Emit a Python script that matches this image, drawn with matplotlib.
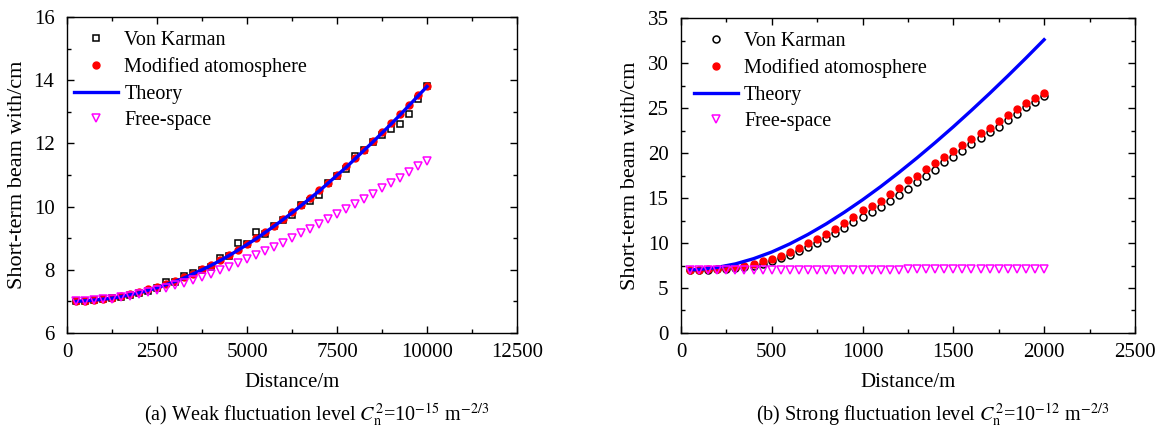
import matplotlib
matplotlib.use('Agg')
import matplotlib.pyplot as plt
from matplotlib.ticker import MultipleLocator

plt.rcParams['font.family'] = ['Liberation Serif', 'DejaVu Serif']
plt.rcParams['mathtext.fontset'] = 'stix'

# (a) weak fluctuation, distance in m
dist_a = [250, 500, 750, 1000, 1250, 1500, 1750, 2000, 2250, 2500,
          2750, 3000, 3250, 3500, 3750, 4000, 4250, 4500, 4750, 5000,
          5250, 5500, 5750, 6000, 6250, 6500, 6750, 7000, 7250, 7500,
          7750, 8000, 8250, 8500, 8750, 9000, 9250, 9500, 9750, 10000]
karman_a = [7.00, 7.02, 7.04, 7.06, 7.10, 7.15, 7.20, 7.27, 7.34, 7.42,
            7.60, 7.62, 7.80, 7.91, 8.00, 8.10, 8.38, 8.45, 8.84, 8.82,
            9.20, 9.13, 9.40, 9.56, 9.72, 10.05, 10.19, 10.38, 10.75, 10.97,
            11.20, 11.60, 11.80, 12.05, 12.27, 12.44, 12.62, 12.94, 13.42, 13.82]
modified_a = [7.00, 7.02, 7.04, 7.08, 7.12, 7.17, 7.23, 7.30, 7.38, 7.47,
              7.55, 7.65, 7.76, 7.88, 8.02, 8.16, 8.32, 8.47, 8.64, 8.82,
              9.00, 9.19, 9.40, 9.60, 9.82, 10.05, 10.28, 10.52, 10.76, 11.00,
              11.27, 11.53, 11.80, 12.07, 12.35, 12.63, 12.92, 13.22, 13.52, 13.82]
theory_a = [7.00, 7.02, 7.04, 7.07, 7.10, 7.15, 7.21, 7.27, 7.35, 7.43,
            7.53, 7.63, 7.74, 7.87, 8.00, 8.14, 8.29, 8.45, 8.62, 8.80,
            8.98, 9.18, 9.38, 9.59, 9.80, 10.03, 10.26, 10.49, 10.74, 10.99,
            11.24, 11.51, 11.78, 12.05, 12.33, 12.61, 12.90, 13.20, 13.50, 13.80]
free_a = [7.00, 7.02, 7.03, 7.06, 7.09, 7.13, 7.18, 7.23, 7.29, 7.36,
          7.43, 7.51, 7.59, 7.69, 7.78, 7.88, 7.99, 8.10, 8.22, 8.34,
          8.46, 8.59, 8.73, 8.86, 9.00, 9.15, 9.30, 9.45, 9.60, 9.76,
          9.91, 10.08, 10.24, 10.41, 10.58, 10.75, 10.92, 11.09, 11.27, 11.45]

# (b) strong fluctuation
dist_b = [50, 100, 150, 200, 250, 300, 350, 400, 450, 500,
          550, 600, 650, 700, 750, 800, 850, 900, 950, 1000,
          1050, 1100, 1150, 1200, 1250, 1300, 1350, 1400, 1450, 1500,
          1550, 1600, 1650, 1700, 1750, 1800, 1850, 1900, 1950, 2000]
karman_b = [6.98, 7.00, 7.03, 7.08, 7.14, 7.22, 7.33, 7.48, 7.70, 7.95,
            8.30, 8.70, 9.10, 9.55, 10.00, 10.60, 11.10, 11.70, 12.30, 12.90,
            13.40, 14.00, 14.70, 15.37, 16.00, 16.73, 17.40, 18.15, 18.96, 19.51,
            20.18, 21.03, 21.67, 22.33, 22.85, 23.70, 24.30, 25.10, 25.70, 26.30]
modified_b = [7.00, 7.02, 7.06, 7.12, 7.22, 7.35, 7.50, 7.67, 7.96, 8.22,
              8.59, 9.00, 9.45, 9.95, 10.44, 11.00, 11.55, 12.20, 12.89, 13.63,
              14.14, 14.70, 15.48, 16.10, 16.96, 17.50, 18.25, 18.90, 19.55, 20.18,
              20.85, 21.55, 22.20, 22.78, 23.59, 24.26, 24.90, 25.60, 26.10, 26.70]
free_b = [6.98, 6.98, 6.98, 6.99, 6.99, 6.99, 6.99, 7.00, 7.00, 7.00,
          7.00, 7.01, 7.01, 7.01, 7.02, 7.02, 7.02, 7.03, 7.03, 7.04,
          7.04, 7.05, 7.05, 7.05, 7.06, 7.06, 7.07, 7.07, 7.08, 7.09,
          7.09, 7.10, 7.10, 7.11, 7.12, 7.12, 7.13, 7.14, 7.14, 7.15]
theory_dist_b = [50, 100, 200, 300, 400, 500, 600, 700, 800, 900, 1000,
                 1100, 1200, 1300, 1400, 1500, 1600, 1700, 1800, 1900, 2000]
theory_b = [7.02, 7.07, 7.29, 7.68, 8.26, 9.00, 9.91, 10.96, 12.13, 13.42, 14.80,
            16.27, 17.83, 19.46, 21.16, 22.92, 24.75, 26.63, 28.57, 30.56, 32.60]

labels = ['Von Karman', 'Modified atomosphere', 'Theory', 'Free-space']


def draw(ax, x, karman, modified, tx, theory, free, karman_marker, leg_x):
    ax.plot(x, karman, karman_marker, ls='none', mfc='none', mec='black',
            ms=5, mew=1.1, label=labels[0])
    ax.plot(x, modified, 'o', ls='none', color='#ff0000', ms=5, label=labels[1])
    ax.plot(tx, theory, '-', color='#0000ff', lw=2.4, label=labels[2])
    ax.plot(x, free, 'v', ls='none', mfc='none', mec='#ff00ff',
            ms=5.5, mew=1.1, label=labels[3])
    ax.tick_params(which='both', direction='in', top=True, right=True,
                   labelsize=15)
    ax.tick_params(axis='x', pad=7)
    ax.tick_params(axis='y', pad=9)
    ax.tick_params(which='major', length=5, width=1)
    ax.tick_params(which='minor', length=3, width=1)
    for s in ax.spines.values():
        s.set_linewidth(1.0)
    ax.set_xlabel('Distance/m', fontsize=15, labelpad=8)
    ax.set_ylabel('Short-term beam with/cm', fontsize=16, labelpad=5)
    ax.legend(loc='upper left', frameon=False, fontsize=14.5, handlelength=2.2,
              handletextpad=0.3, labelspacing=0.36, borderaxespad=0.3,
              bbox_to_anchor=(leg_x, 1.0))


fig = plt.figure(figsize=(11.7, 4.29), dpi=100)
ax1 = fig.add_axes([0.0573, 0.2238, 0.3846, 0.7366])
ax2 = fig.add_axes([0.582, 0.2238, 0.388, 0.7340])

draw(ax1, dist_a, karman_a, modified_a, dist_a, theory_a, free_a, 's', -0.016)
ax1.set_xlim(0, 12500)
ax1.set_ylim(6, 16)
ax1.xaxis.set_major_locator(MultipleLocator(2500))
ax1.xaxis.set_minor_locator(MultipleLocator(1250))
ax1.yaxis.set_major_locator(MultipleLocator(2))
ax1.yaxis.set_minor_locator(MultipleLocator(1))

draw(ax2, dist_b, karman_b, modified_b, theory_dist_b, theory_b, free_b, 'o', -0.003)
ax2.set_xlim(0, 2500)
ax2.set_ylim(0, 35)
ax2.xaxis.set_major_locator(MultipleLocator(500))
ax2.xaxis.set_minor_locator(MultipleLocator(250))
ax2.yaxis.set_major_locator(MultipleLocator(5))
ax2.yaxis.set_minor_locator(MultipleLocator(2.5))

fig.text(0.271, 0.018,
         r'(a) Weak fluctuation level $C_{\mathrm{n}}^{2}$=10$^{-15}$ m$^{-2/3}$',
         ha='center', fontsize=14.5)
fig.text(0.797, 0.018,
         r'(b) Strong fluctuation level $C_{\mathrm{n}}^{2}$=10$^{-12}$ m$^{-2/3}$',
         ha='center', fontsize=14.5)

fig.savefig('out.png', dpi=100)
